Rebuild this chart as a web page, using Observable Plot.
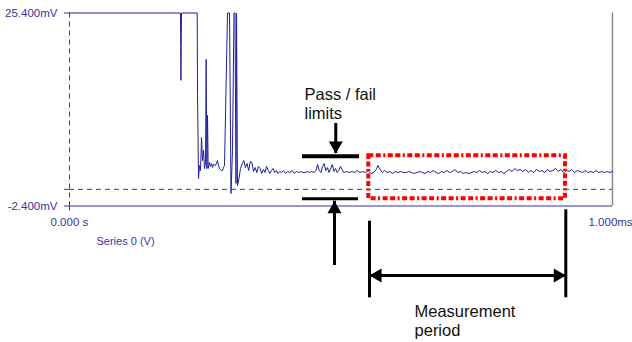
<!DOCTYPE html>
<html>
<head>
<meta charset="utf-8">
<script src="https://cdn.jsdelivr.net/npm/d3@7"></script>
<script src="https://cdn.jsdelivr.net/npm/@observablehq/plot@0.6"></script>
<style>
  html, body { margin: 0; padding: 0; background: #fff; }
</style>
</head>
<body>
<div id="chart"></div>
<script>
// ---- data (time in ms, signal in mV) ----
const timeMs = [
  0.000, 0.2044, 0.2048, 0.2052, 0.2057, 0.2063, 0.2352, 0.2358, 0.2376, 0.2394,
  0.2413, 0.2431, 0.2450, 0.2468, 0.2486, 0.2505, 0.2517, 0.2530, 0.2542, 0.2554,
  0.2578, 0.2597, 0.2615, 0.2634, 0.2652, 0.2689, 0.2726, 0.2744, 0.2762, 0.2799,
  0.2818, 0.2836, 0.2855, 0.2910, 0.2947, 0.2974, 0.3002, 0.3029, 0.3048, 0.3066,
  0.3076, 0.3094, 0.3122, 0.3149,
  0.318, 0.321, 0.324, 0.327, 0.330, 0.333, 0.336, 0.339, 0.342, 0.345,
  0.348, 0.351, 0.354, 0.357, 0.360, 0.363, 0.366, 0.369, 0.372, 0.375,
  0.378, 0.381, 0.384, 0.387, 0.390, 0.394, 0.398, 0.402, 0.406, 0.410,
  0.414, 0.418, 0.422, 0.426, 0.430, 0.434, 0.438, 0.442, 0.446, 0.450,
  0.454, 0.457, 0.460, 0.463, 0.466, 0.469, 0.472, 0.475, 0.478, 0.481,
  0.484, 0.487, 0.490, 0.493, 0.496, 0.499, 0.502, 0.505, 0.510, 0.515,
  0.520, 0.525, 0.530, 0.535, 0.540, 0.545, 0.550, 0.555, 0.560, 0.565,
  0.568, 0.572, 0.576, 0.580, 0.585, 0.590, 0.595, 0.600, 0.605, 0.610,
  0.615, 0.620, 0.625, 0.630, 0.635, 0.640, 0.645, 0.650, 0.655, 0.660,
  0.665, 0.670, 0.675, 0.680, 0.685, 0.690, 0.695, 0.700, 0.705, 0.710,
  0.715, 0.720, 0.725, 0.730, 0.735, 0.740, 0.745, 0.750, 0.755, 0.760,
  0.765, 0.770, 0.775, 0.780, 0.785, 0.790, 0.795, 0.800, 0.805, 0.810,
  0.815, 0.820, 0.825, 0.830, 0.835, 0.840, 0.845, 0.850, 0.855, 0.860,
  0.865, 0.870, 0.875, 0.880, 0.885, 0.890, 0.895, 0.900, 0.905, 0.910,
  0.915, 0.920, 0.925, 0.930, 0.935, 0.940, 0.945, 0.950, 0.955, 0.960,
  0.965, 0.970, 0.975, 0.980, 0.985, 0.990, 0.995, 1.000
];
const signalMv = [
  25.4, 25.4, 20.4, 15.7, 20.4, 25.4, 25.4, 13.5, 1.56, 3.43,
  2.71, 7.47, 4.15, 5.6, 3.0, 3.86, 18.7, 3.0, 10.64, 3.0,
  3.86, 3.29, 3.72, 3.14, 3.58, 3.43, 4.15, 3.43, 3.0, 2.71,
  2.71, 3.14, 3.43, 25.4, 25.4, -0.6, 5.6, 25.4, 25.4, 0.84,
  25.4, 0.55, 1.56, 3.0,
  3.72, 4.15, 3.14, 3.72, 2.71, 4.01, 3.86, 2.57, 3.14, 2.42,
  3.29, 3.00, 2.28, 2.86, 2.42, 3.29, 2.71, 2.28, 2.71, 3.00,
  2.42, 2.71, 2.28, 2.57, 2.42, 2.71, 2.28, 2.57, 2.42, 2.71,
  2.28, 2.57, 2.42, 2.57, 2.42, 2.42, 2.57, 2.42, 2.57, 2.42,
  2.71, 3.58, 2.71, 2.42, 3.29, 3.72, 2.71, 3.14, 2.42, 3.00,
  3.58, 2.57, 3.00, 2.42, 2.71, 3.29, 2.86, 2.42, 2.57, 2.42,
  2.57, 2.42, 2.71, 2.42, 2.57, 2.42, 2.71, 2.28, 2.42, 2.86,
  3.43, 2.86, 2.42, 2.71, 2.42, 2.57, 2.28, 2.57, 2.42, 2.57,
  2.42, 2.42, 2.57, 2.42, 2.28, 2.42, 2.57, 2.42, 2.28, 2.57,
  2.42, 2.71, 2.42, 2.28, 2.57, 2.42, 2.71, 2.42, 2.57, 2.86,
  2.42, 2.57, 2.28, 2.42, 2.28, 2.42, 2.57, 2.42, 2.71, 2.42,
  2.57, 2.28, 2.57, 2.42, 2.71, 2.42, 2.57, 2.28, 2.57, 2.86,
  2.57, 3.00, 2.71, 2.86, 2.57, 2.86, 2.42, 2.71, 2.42, 2.86,
  2.57, 2.71, 2.42, 2.86, 2.57, 2.71, 3.00, 2.57, 2.86, 2.42,
  2.71, 2.57, 2.86, 2.42, 2.71, 2.57, 2.42, 2.71, 2.42, 2.57,
  2.42, 2.71, 2.42, 2.57, 2.42, 2.57, 2.42, 2.57
];

// axis ticks
const yTicks = [25.4, 0, -2.4];
const yTickLabels = ["25.400mV", "", "-2.400mV"];
const xStartLabel = "0.000 s";
const xEndLabel = "1.000ms";
const seriesName = "Series 0 (V)";

// annotations (data units: ms, mV)
const upperLimit = {t1: 0.4291, t2: 0.5341, v: 4.77};
const lowerLimit = {t1: 0.4291, t2: 0.5322, v: -1.36};
const downArrow = {t: 0.4904, from: 9.48, to: 5.16};
const upArrow = {t: 0.4880, from: -10.97, to: -1.71};
const measureWindow = {t1: 0.5512, t2: 0.9134, v1: -1.36, v2: 4.83};
const periodMarkers = [
  {t: 0.5525, top: -4.59, bottom: -15.63},
  {t: 0.9140, top: -2.95, bottom: -15.63}
];
const periodArrow = {t1: 0.5525, t2: 0.9140, v: -12.41};
const notes = [
  {t: 0.4328, v: 14.70, text: "Pass / fail\nlimits"},
  {t: 0.6354, v: -16.52, text: "Measurement\nperiod"}
];

const rows = timeMs.map((t, i) => ({t, v: signalMv[i]}));
const tickLabel = new Map(yTicks.map((d, i) => [d, yTickLabels[i]]));

const axisBlue = "#3535a0";
const traceBlue = "#20209a";
const font = "'Liberation Sans', Arial, sans-serif";
const head = {symbol: "triangle", r: 5.2, fill: "#000", stroke: "none"};

const chart = Plot.plot({
  width: 632,
  height: 342,
  marginLeft: 69,
  marginRight: 20,
  marginTop: 12.5,
  marginBottom: 136.5,
  x: {domain: [0, 1], axis: null},
  y: {domain: [-2.4, 25.4], axis: null},
  style: {background: "#fff", fontFamily: font, color: axisBlue, overflow: "visible"},
  marks: [
    // frame pieces
    Plot.ruleX([0], {stroke: axisBlue, strokeDasharray: "5,4", strokeWidth: 1}),
    Plot.ruleY([0], {stroke: axisBlue, strokeDasharray: "5,4", strokeWidth: 1}),
    Plot.ruleY([-2.4], {stroke: axisBlue, strokeWidth: 1}),
    Plot.ruleX([1], {stroke: "#8a8a8a", strokeWidth: 1.5}),
    Plot.axisY({ticks: yTicks, tickSize: 5, tickPadding: 7, tickFormat: d => tickLabel.get(d),
      fontSize: 11.5, anchor: "left"}),
    Plot.axisX({ticks: [0], tickSize: 5, tickFormat: () => "", anchor: "bottom"}),
    Plot.text([xStartLabel], {x: () => 0, y: () => -2.4, text: d => d, textAnchor: "start",
      dx: -19, dy: 16.5, fontSize: 11.5, fill: axisBlue}),
    Plot.text([xEndLabel], {x: () => 1, y: () => -2.4, text: d => d, textAnchor: "start",
      dx: -24, dy: 16.5, fontSize: 11.5, fill: axisBlue}),
    Plot.text([seriesName], {x: () => 0, y: () => -2.4, text: d => d, textAnchor: "start",
      dx: 27, dy: 35, fontSize: 11, fill: axisBlue}),
    // signal
    Plot.line(rows, {x: "t", y: "v", stroke: traceBlue, strokeWidth: 1}),
    // measurement window
    Plot.rect([measureWindow], {x1: "t1", x2: "t2", y1: "v1", y2: "v2", fill: "none",
      stroke: "#ff0000", strokeWidth: 4, strokeDasharray: "5,2.5,5,2.5,2,2.5"}),
    // pass/fail bars
    Plot.ruleY([upperLimit], {x1: "t1", x2: "t2", y: "v", stroke: "#000", strokeWidth: 4}),
    Plot.ruleY([lowerLimit], {x1: "t1", x2: "t2", y: "v", stroke: "#000", strokeWidth: 3}),
    Plot.ruleX([downArrow, upArrow], {x: "t", y1: "from", y2: "to", stroke: "#000", strokeWidth: 3}),
    Plot.dot([downArrow], {x: "t", y: "to", ...head, rotate: 180, dy: -8}),
    Plot.dot([upArrow], {x: "t", y: "to", ...head, rotate: 0, dy: 8}),
    // measurement period markers
    Plot.ruleX(periodMarkers, {x: "t", y1: "top", y2: "bottom", stroke: "#000", strokeWidth: 3}),
    Plot.ruleY([periodArrow], {x1: "t1", x2: "t2", y: "v", stroke: "#000", strokeWidth: 3}),
    Plot.dot([periodArrow], {x: "t1", y: "v", ...head, rotate: -90, dx: 8}),
    Plot.dot([periodArrow], {x: "t2", y: "v", ...head, rotate: 90, dx: -8}),
    // notes
    Plot.text(notes, {x: "t", y: "v", text: "text", textAnchor: "start", lineAnchor: "top",
      fontSize: 16.5, lineHeight: 1.12, fill: "#111"})
  ]
});

document.getElementById("chart").appendChild(chart);
</script>
</body>
</html>
